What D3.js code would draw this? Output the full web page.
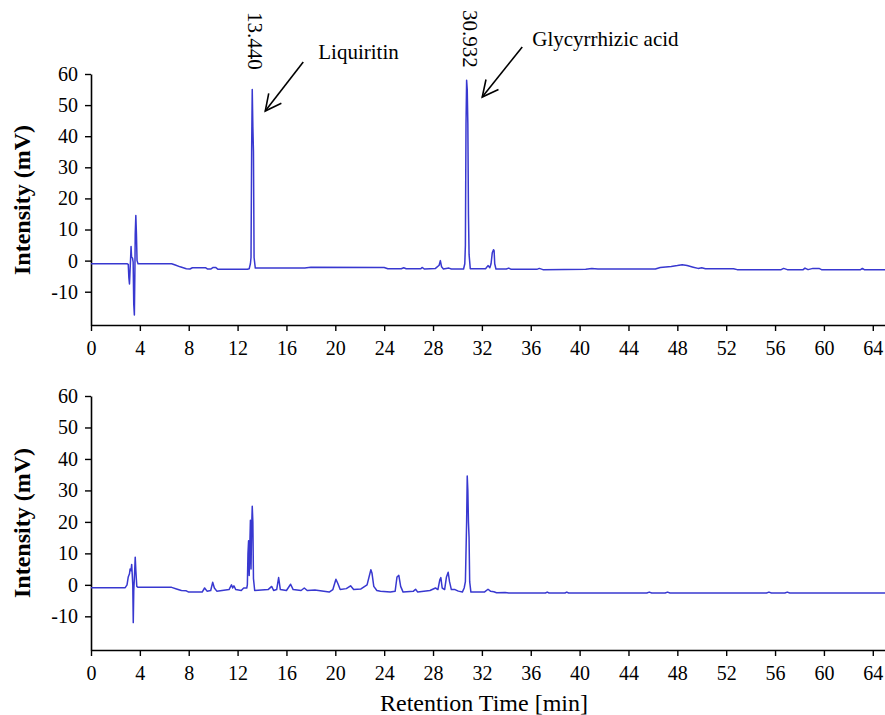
<!DOCTYPE html>
<html>
<head>
<meta charset="utf-8">
<script src="https://cdn.jsdelivr.net/npm/d3@7"></script>
<style>
  html, body { margin: 0; padding: 0; background: #fff; }
  svg { display: block; }
  text { font-family: "Liberation Serif", "Times New Roman", serif; fill: #000; }
</style>
</head>
<body>
<svg id="chart" width="885" height="715"></svg>
<script>
// ---------- DATA ----------
const xTicks = [0, 4, 8, 12, 16, 20, 24, 28, 32, 36, 40, 44, 48, 52, 56, 60, 64];
const yTicks = [-10, 0, 10, 20, 30, 40, 50, 60];

// Upper chromatogram (standards)
const topTime = [0, 2.95, 3.05, 3.1, 3.15, 3.2, 3.25, 3.28, 3.32, 3.4, 3.45, 3.5, 3.55, 3.6, 3.62, 3.67, 3.72, 3.77, 3.85,
  6.6, 6.9, 7.3, 7.8, 8.1, 8.3, 9.4, 9.55, 9.8, 10.0, 10.2, 10.4, 12.8, 12.95, 13.05, 13.1, 13.15, 13.2, 13.25, 13.3, 13.35, 13.45,
  14.0, 17.5, 18.0, 24.0, 24.3, 25.4, 25.6, 25.8, 27.0, 27.1, 27.3, 28.2, 28.5, 28.6, 28.7, 28.85, 29.3, 29.5, 29.7,
  30.5, 30.6, 30.65, 30.7, 30.75, 30.8, 30.85, 30.9, 30.95, 31.05,
  32.3, 32.5, 32.65, 32.75, 32.85, 32.95, 33.0, 33.05, 33.15, 34.0, 34.2, 34.4, 36.5, 36.7, 37.0, 40.5, 41.0, 41.5,
  46.2, 46.6, 47.5, 48.0, 48.4, 48.8, 49.3, 49.7, 50.0, 50.3, 52.6, 52.9, 56.5, 56.7, 57.0, 58.3, 58.45, 58.7, 59.1, 59.6, 59.8,
  63.0, 63.15, 63.3, 65];
const topIntensity = [-1.0, -1.0, -1.2, -5.5, -7.5, -3, 1.5, 4.5, 1.2, 0.8, -0.5, -14, -17.5, -1, 8.5, 14.5, 8.5, 0, -1.0,
  -1.0, -1.4, -2.0, -2.6, -2.7, -2.3, -2.3, -2.7, -2.7, -2.2, -2.2, -2.8, -2.8, -2.6, -1.0, 1.0, 35, 55, 43, 35, 1.0, -2.4,
  -2.4, -2.4, -2.1, -2.2, -2.6, -2.6, -2.3, -2.6, -2.6, -2.2, -2.7, -2.5, -1.5, 0, -2, -2.7, -2.4, -2.7, -2.7,
  -2.7, -1, 5, 44, 58, 55, 44, 15, 2, -2.6,
  -2.6, -1.6, -2.3, -1, 2.5, 3.5, 3.2, -1, -2.7, -2.7, -2.4, -2.8, -2.8, -2.5, -2.9, -2.8, -2.5, -2.7,
  -2.7, -2.2, -1.9, -1.6, -1.3, -1.6, -2.1, -2.5, -2.3, -2.6, -2.6, -2.9, -2.9, -2.5, -2.9, -2.9, -2.4, -2.9, -2.5, -2.5, -2.9,
  -2.9, -2.5, -2.9, -2.9];

// Lower chromatogram (sample)
const bottomTime = [0, 2.8, 2.95, 3.05, 3.15, 3.2, 3.28, 3.33, 3.38, 3.42, 3.46, 3.5, 3.55, 3.62, 3.68, 3.75, 3.85,
  6.6, 7.0, 7.4, 7.8, 8.0, 9.1, 9.3, 9.5, 9.8, 9.96, 10.1, 10.3, 11.3, 11.5, 11.6, 11.7, 11.85, 12.3, 12.5, 12.75,
  12.8, 12.85, 12.9, 12.95, 13.0, 13.05, 13.1, 13.15, 13.2, 13.25, 13.3, 13.4,
  14.5, 14.79, 14.95, 15.2, 15.36, 15.5, 16.0, 16.34, 16.55, 17.2, 17.46, 17.7, 18.33, 19.5, 19.8, 20.05, 20.2, 20.4,
  20.9, 21.25, 21.5, 22.1, 22.6, 22.91, 23.0, 23.15, 23.4, 23.7, 24.5, 24.9, 25.05, 25.2, 25.35, 25.55, 26.4, 26.57, 26.75,
  27.75, 28.2, 28.4, 28.55, 28.64, 28.75, 28.95, 29.1, 29.24, 29.35, 29.5, 29.8, 30.07, 30.4,
  30.55, 30.65, 30.75, 30.8, 30.85, 30.9, 30.95, 31.0, 31.1, 32.2, 32.5, 32.7, 32.98, 33.2, 33.9, 34.2,
  37.2, 37.35, 37.5, 38.8, 38.95, 39.1, 45.5, 45.7, 45.9, 47.0, 47.2, 47.4, 55.3, 55.5, 55.7, 56.8, 57.0, 57.2, 65];
const bottomIntensity = [-0.9, -0.9, 0, 2.5, 3.5, 5, 4.5, 6.5, 3, 0, -12, -2, 2, 8.8, 4, -0.5, -0.8,
  -0.8, -1.3, -1.8, -1.9, -2.3, -2.3, -1.0, -2.0, -1.8, 0.8, -1.0, -2.0, -1.5, 0, -1.0, -0.3, -1.5, -1.8, -1.0, -1.0,
  0, 10, 14, 3, 12, 20.5, 5, 18, 25, 20, 2, -1.8,
  -1.5, -0.5, -1.8, -1.5, 2.3, -1.5, -1.8, 0.2, -1.5, -1.8, -1.0, -1.8, -1.6, -2.3, -1.5, 1.8, 0.5, -1.5,
  -1.2, -0.3, -1.5, -1.3, 0, 4.8, 3.8, -0.5, -1.8, -2.0, -2.3, -2.0, 2.5, 3.0, -0.5, -2.3, -2.0, -1.4, -2.3,
  -1.8, -1.0, -1.5, 1.5, 2.3, -1.0, -1.5, 2.5, 4.0, 1.0, -1.5, -1.5, -2.0, -2.3,
  -1.0, 1.0, 20, 34.6, 30, 20, 15, 1, -2.3, -2.3, -1.4, -2.0, -2.2, -2.5, -2.4, -2.6,
  -2.6, -2.3, -2.6, -2.6, -2.3, -2.6, -2.6, -2.3, -2.6, -2.6, -2.3, -2.6, -2.6, -2.3, -2.6, -2.6, -2.3, -2.6, -2.6];

// Peak annotations (upper panel)
const peakTimes = [13.2, 30.8];
const peakLabels = ["13.440", "30.932"];
const compoundNames = ["Liquiritin", "Glycyrrhizic acid"];

// ---------- LAYOUT ----------
const svg = d3.select("#chart");
const x = d3.scaleLinear().domain([0, 65]).range([91, 885]);
const panels = [
  { time: topTime, val: topIntensity, yRange: [325, 74], titleY: 200 },
  { time: bottomTime, val: bottomIntensity, yRange: [650, 396], titleY: 523 }
];
const lineColor = "#3838d0";

const defs = svg.append("defs");
defs.append("marker").attr("id", "arr").attr("viewBox", "0 0 20 20")
  .attr("refX", 18).attr("refY", 10).attr("markerWidth", 20).attr("markerHeight", 20)
  .attr("markerUnits", "userSpaceOnUse").attr("orient", "auto")
  .append("path").attr("d", "M2,2 L18,10 L2,18").attr("fill", "none").attr("stroke", "#000").attr("stroke-width", 1.6);

panels.forEach((p, i) => {
  const y = d3.scaleLinear().domain([-20.7, 60]).range(p.yRange);
  const g = svg.append("g");

  const ya = g.append("g").attr("transform", "translate(91,0)")
    .call(d3.axisLeft(y).tickValues(yTicks).tickFormat(d => String(d)).tickSize(6).tickPadding(7).tickSizeOuter(0));
  const xa = g.append("g").attr("transform", `translate(0,${p.yRange[0]})`)
    .call(d3.axisBottom(x).tickValues(xTicks).tickFormat(d => String(d)).tickSize(6).tickPadding(10).tickSizeOuter(0));
  [ya, xa].forEach(a => {
    a.select(".domain").attr("stroke", "#000").attr("stroke-width", 1.6);
    a.selectAll(".tick line").attr("stroke", "#000").attr("stroke-width", 1.4);
    a.selectAll(".tick text").style("font-family", '"Liberation Serif", serif').style("font-size", "20px").attr("fill", "#000");
  });

  g.append("text")
    .attr("transform", `translate(30,${p.titleY}) rotate(-90)`)
    .attr("text-anchor", "middle")
    .style("font-size", "24px").style("font-weight", "bold")
    .text("Intensity (mV)");

  const pts = p.time.map((t, k) => [t, p.val[k]]);
  g.append("path")
    .datum(pts)
    .attr("fill", "none")
    .attr("stroke", lineColor)
    .attr("stroke-width", 1.5)
    .attr("stroke-linejoin", "round")
    .attr("d", d3.line().x(d => x(d[0])).y(d => y(d[1])));

  if (i === 0) {
    peakTimes.forEach((t, k) => {
      g.append("text")
        .attr("transform", `translate(${x(t) - 4},${k === 0 ? 12 : 10}) rotate(90)`)
        .style("font-size", "21px")
        .text(peakLabels[k]);
    });
    const nameCfg = [
      { dx: 66, yBase: 59, ax0: 51, ay0: 62, ax1: 13, ay1: 111 },
      { dx: 65, yBase: 46, ax0: 55, ay0: 47, ax1: 15, ay1: 97 }
    ];
    peakTimes.forEach((t, k) => {
      const c = nameCfg[k];
      const px = x(t);
      g.append("text").attr("x", px + c.dx).attr("y", c.yBase)
        .style("font-size", "21px").text(compoundNames[k]);
      g.append("line")
        .attr("x1", px + c.ax0).attr("y1", c.ay0)
        .attr("x2", px + c.ax1).attr("y2", c.ay1)
        .attr("stroke", "#000").attr("stroke-width", 1.6)
        .attr("marker-end", "url(#arr)");
    });
  }
});

svg.append("text")
  .attr("x", 484).attr("y", 711)
  .attr("text-anchor", "middle")
  .style("font-size", "24px")
  .text("Retention Time [min]");
</script>
</body>
</html>
